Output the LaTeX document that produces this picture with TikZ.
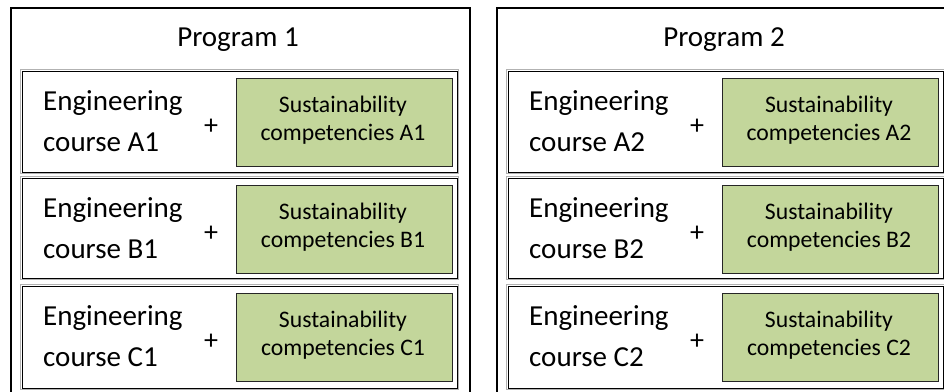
\documentclass[tikz,border=0pt]{standalone}
\usepackage{fontspec}
\setmainfont{Carlito}
\definecolor{sgreen}{HTML}{C3D69B}
\begin{document}
\begin{tikzpicture}[x=1pt,y=-1pt,
  outerbox/.style={draw=black,line width=2.4pt,inner sep=0pt,anchor=north west,minimum width=459pt,minimum height=400pt},
  rowbox/.style={draw=black,line width=1.4pt,inner sep=0pt,anchor=north west,minimum width=435pt},
  rowshade/.style={draw=gray!60,line width=0.6pt},
  greenbox/.style={draw=black!85,line width=1.4pt,fill=sgreen,inner sep=0pt,anchor=north west,minimum width=216pt,minimum height=88pt},
  titletext/.style={font=\fontsize{29}{34}\selectfont,anchor=base,inner sep=0pt},
  engtext/.style={font=\fontsize{29}{41}\selectfont,align=left,anchor=base west,inner sep=0pt},
  plustext/.style={font=\fontsize{28}{32}\selectfont,inner sep=0pt},
  sustext/.style={font=\fontsize{23.7}{28}\selectfont,align=center,anchor=base,inner sep=0pt}]
\useasboundingbox (0,0) rectangle (944,391);
\clip (0,0) rectangle (944,391);
\foreach \p/\dx in {1/0,2/486}{
  \node[outerbox] (p\p) at (10+\dx,7) {};
  \node[titletext] (p\p-title) at (238+\dx,46) {Program \p};
  \foreach \r/\top/\h in {A/71/101,B/178/100,C/286/102}{
    \draw[rowshade] (22-1.4+\dx,\top-1.4) rectangle (457+1.4+\dx,\top+\h+1.4);
    \node[rowbox,minimum height=\h pt] (p\p\r) at (22+\dx,\top) {};
    \node[greenbox] (p\p\r-sus) at (236+\dx,\top+7) {};
    \node[sustext] (p\p\r-sustext) at (343+\dx,\top+69) {Sustainability\\competencies \r\p};
    \node[engtext] (p\p\r-eng) at (43+\dx,\top+80) {Engineering\\course \r\p};
    \node[plustext] (p\p\r-plus) at (211+\dx,\top+56) {+};
  }
}
\end{tikzpicture}
\end{document}
